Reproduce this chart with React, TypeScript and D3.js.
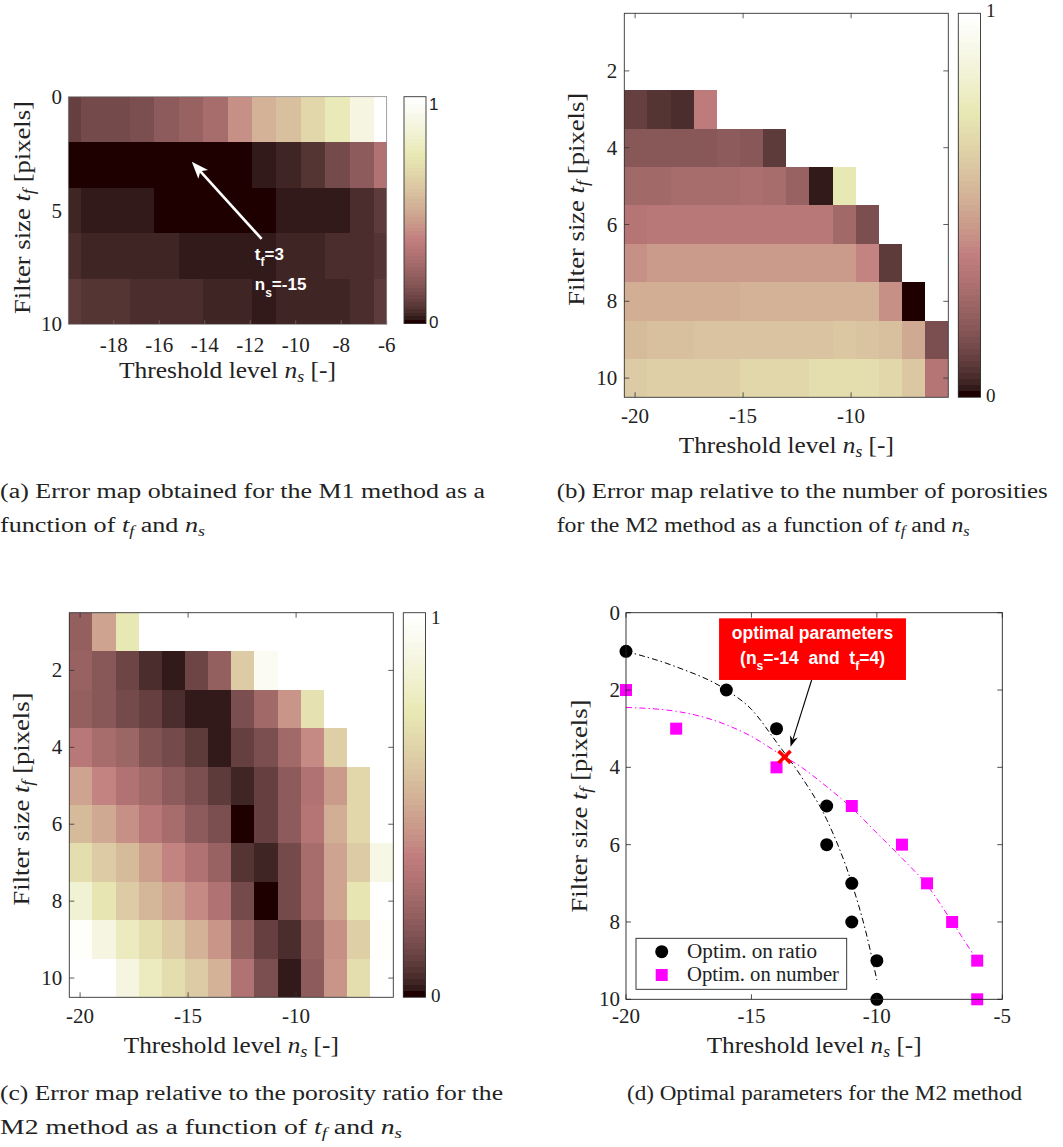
import React from "react";
import * as d3 from "d3";

const SERIF = "'Liberation Serif','Times New Roman',serif";
const SANS = "'Liberation Sans',Arial,Helvetica,sans-serif";

// ---------------- DATA ----------------
// (a) M1 method: rows = filter size t_f, 14 threshold columns
const aFilterSizes = [1, 3, 5, 7, 9];
const aError = [
  [0.1, 0.13, 0.14, 0.15, 0.2, 0.23, 0.27, 0.42, 0.52, 0.57, 0.66, 0.76, 0.88, 1.0],
  [0, 0, 0, 0, 0, 0, 0, 0, 0.02, 0.04, 0.07, 0.13, 0.2, 0.3],
  [0.04, 0.02, 0.02, 0.02, 0, 0, 0, 0, 0, 0.02, 0.02, 0.03, 0.05, 0.08],
  [0.05, 0.045, 0.045, 0.035, 0.035, 0.02, 0.02, 0.02, 0.02, 0.035, 0.045, 0.05, 0.055, 0.07],
  [0.08, 0.075, 0.075, 0.06, 0.05, 0.05, 0.04, 0.04, 0.02, 0.035, 0.035, 0.045, 0.06, 0.08],
];
const aXTicks = [-18, -16, -14, -12, -10, -8, -6];
const aYTicks = [0, 5, 10];

// (b) and (c) M2 method: rows t_f = 1..10, 14 threshold columns (null = no value)
const bcFilterSizes = [1, 2, 3, 4, 5, 6, 7, 8, 9, 10];
const N = null;
const bError = [
  [N, N, N, N, N, N, N, N, N, N, N, N, N, N],
  [N, N, N, N, N, N, N, N, N, N, N, N, N, N],
  [0.1, 0.07, 0.055, 0.35, N, N, N, N, N, N, N, N, N, N],
  [0.18, 0.18, 0.18, 0.18, 0.2, 0.18, 0.09, N, N, N, N, N, N, N],
  [0.26, 0.26, 0.27, 0.27, 0.27, 0.29, 0.28, 0.22, 0.02, 0.74, N, N, N, N],
  [0.32, 0.34, 0.34, 0.34, 0.34, 0.34, 0.34, 0.34, 0.34, 0.26, 0.15, N, N, N],
  [0.42, 0.44, 0.44, 0.44, 0.45, 0.45, 0.45, 0.45, 0.45, 0.44, 0.38, 0.09, N, N],
  [0.5, 0.5, 0.51, 0.51, 0.51, 0.52, 0.52, 0.52, 0.52, 0.52, 0.52, 0.42, 0.0, N],
  [0.56, 0.57, 0.57, 0.58, 0.58, 0.58, 0.59, 0.59, 0.59, 0.6, 0.58, 0.57, 0.49, 0.15],
  [0.61, 0.63, 0.63, 0.64, 0.64, 0.66, 0.66, 0.66, 0.69, 0.69, 0.69, 0.66, 0.6, 0.32],
];
const cError = [
  [0.21, 0.48, 0.74, N, N, N, N, N, N, N, N, N, N, N],
  [0.22, 0.18, 0.11, 0.055, 0.02, 0.12, 0.21, 0.62, 0.95, N, N, N, N, N],
  [0.21, 0.18, 0.13, 0.1, 0.055, 0.02, 0.02, 0.15, 0.25, 0.43, 0.71, N, N, N],
  [0.34, 0.28, 0.24, 0.17, 0.14, 0.09, 0.02, 0.1, 0.15, 0.25, 0.4, 0.63, N, N],
  [0.47, 0.39, 0.31, 0.25, 0.19, 0.15, 0.09, 0.04, 0.1, 0.19, 0.3, 0.44, 0.67, N],
  [0.55, 0.49, 0.42, 0.33, 0.27, 0.2, 0.15, 0.0, 0.1, 0.2, 0.32, 0.5, 0.67, N],
  [0.7, 0.62, 0.55, 0.46, 0.38, 0.3, 0.23, 0.07, 0.035, 0.14, 0.28, 0.47, 0.62, 0.9],
  [0.83, 0.72, 0.62, 0.54, 0.47, 0.4, 0.3, 0.13, 0.0, 0.14, 0.28, 0.48, 0.72, 1.0],
  [0.97, 0.88, 0.78, 0.7, 0.62, 0.52, 0.43, 0.21, 0.1, 0.05, 0.21, 0.42, 0.64, 0.97],
  [1.0, 1.0, 0.88, 0.78, 0.7, 0.62, 0.52, 0.3, 0.15, 0.02, 0.2, 0.43, 0.7, 1.0],
];
const bcXTicks = [-20, -15, -10];
const bcYTicks = [2, 4, 6, 8, 10];

// (d) optimal parameters
const dRatioNs = [-20, -16, -14, -12, -12, -11, -11, -10, -10];
const dRatioTf = [1, 2, 3, 5, 6, 7, 8, 9, 10];
const dNumberNs = [-20, -18, -14, -11, -9, -8, -7, -6, -6];
const dNumberTf = [2, 3, 4, 5, 6, 7, 8, 9, 10];
const dRatioFitNs = [-20, -18, -16, -15, -14, -13, -12, -11, -10.5, -10];
const dRatioFitTf = [1.0, 1.4, 2.0, 2.5, 3.35, 4.25, 5.35, 7.0, 8.1, 9.5];
const dNumberFitNs = [-20, -18, -16, -15, -14, -13, -12, -11, -10, -9, -8, -7, -6];
const dNumberFitTf = [2.45, 2.55, 2.9, 3.2, 3.6, 4.0, 4.5, 5.05, 5.7, 6.35, 7.05, 8.0, 9.0];
const optNs = -13.68;
const optTf = 3.73;
const dXTicks = [-20, -15, -10, -5];
const dYTicks = [0, 2, 4, 6, 8, 10];

// ---------------- COLORMAP (MATLAB "pink", 64 levels) ----------------
function matlabPink(m: number) {
  const n = Math.floor((3 / 8) * m);
  const out: string[] = [];
  for (let i = 0; i < m; i++) {
    const g = i / (m - 1);
    const hr = i < n ? (i + 1) / n : 1;
    const hg = i < n ? 0 : i < 2 * n ? (i - n + 1) / n : 1;
    const hb = i < 2 * n ? 0 : (i - 2 * n + 1) / (m - 2 * n);
    const f = (h: number) => Math.round(255 * Math.sqrt((2 * g + h) / 3));
    out.push(`rgb(${f(hr)},${f(hg)},${f(hb)})`);
  }
  return out;
}
const PINK = matlabPink(64);
const cmap = d3.scaleQuantize<string>().domain([0, 1]).range(PINK);

type Frame = { l: number; r: number; t: number; b: number };

const FA: Frame = { l: 68.3, r: 386.7, t: 96.7, b: 324.3 };
const FB: Frame = { l: 624.3, r: 948.3, t: 13.3, b: 397.3 };
const FC: Frame = { l: 69.3, r: 393.3, t: 612.7, b: 997.3 };
const FD: Frame = { l: 626, r: 1002.3, t: 612.7, b: 999.3 };

const ADJ = "spacingAndGlyphs";

function NsLabel({ x, y, size = 23, len }: { x: number; y: number; size?: number; len?: number }) {
  return (
    <text x={x} y={y} textAnchor="middle" fontFamily={SERIF} fontSize={size} fill="#222"
      style={{ whiteSpace: "pre" }} textLength={len} lengthAdjust={ADJ}>
      {"Threshold level "}
      <tspan fontStyle="italic">n</tspan>
      <tspan fontStyle="italic" fontSize={size * 0.7} dy={4}>s</tspan>
      <tspan dy={-4}>{" [-]"}</tspan>
    </text>
  );
}

function TfLabel({ x, y, size = 23, len }: { x: number; y: number; size?: number; len?: number }) {
  return (
    <text transform={`translate(${x},${y}) rotate(-90)`} textAnchor="middle" fontFamily={SERIF}
      fontSize={size} fill="#222" style={{ whiteSpace: "pre" }} textLength={len} lengthAdjust={ADJ}>
      {"Filter size "}
      <tspan fontStyle="italic">t</tspan>
      <tspan fontStyle="italic" fontSize={size * 0.7} dy={4}>f</tspan>
      <tspan dy={-4}>{" [pixels]"}</tspan>
    </text>
  );
}

function Colorbar({ x0, x1, f, labelFont, labelSize, topY, botY, lx }:
  { x0: number; x1: number; f: Frame; labelFont: string; labelSize: number; topY: number; botY: number; lx: number }) {
  const y = d3.scaleLinear().domain([0, PINK.length]).range([f.b, f.t]);
  return (
    <g>
      {PINK.map((c, i) => (
        <rect key={i} x={x0} y={y(i + 1)} width={x1 - x0} height={y(i) - y(i + 1)} fill={c}
          shapeRendering="crispEdges" />
      ))}
      <rect x={x0} y={f.t} width={x1 - x0} height={f.b - f.t} fill="none" stroke="#333" strokeWidth={0.9} />
      <text x={lx} y={topY} fontFamily={labelFont} fontSize={labelSize} fill="#222">1</text>
      <text x={lx} y={botY} fontFamily={labelFont} fontSize={labelSize} fill="#222">0</text>
    </g>
  );
}

function arrowHead(tx: number, ty: number, fx: number, fy: number, len: number, hw: number, notch: number) {
  const dx = tx - fx, dy = ty - fy;
  const d = Math.hypot(dx, dy);
  const ux = dx / d, uy = dy / d;
  const px = -uy, py = ux;
  const bx = tx - ux * len, by = ty - uy * len;
  const nx = tx - ux * len * (1 - notch), ny = ty - uy * len * (1 - notch);
  return `M${tx},${ty}L${bx + px * hw},${by + py * hw}L${nx},${ny}L${bx - px * hw},${by - py * hw}Z`;
}

function PanelA() {
  const f = FA;
  const xAxis = d3.scaleLinear().domain([-20, -6]).range([f.l, f.r]);
  const y = d3.scaleLinear().domain([0, 10]).range([f.t, f.b]);
  const xCell = d3.scaleLinear().domain([0, aError[0].length - 1]).range([f.l, f.r]);
  const tail = { ns: -11.5, tf: 6.25 };
  const head = { ns: -14.57, tf: 2.86 };
  const hx = xAxis(head.ns), hy = y(head.tf), tx = xAxis(tail.ns), ty = y(tail.tf);
  const txtX = xAxis(-11.8);
  return (
    <g>
      <clipPath id="clipA"><rect x={f.l} y={f.t} width={f.r - f.l} height={f.b - f.t} /></clipPath>
      <g clipPath="url(#clipA)">
        {aError.map((row, ri) =>
          row.map((v, ci) => (
            <rect key={`${ri}-${ci}`} x={xCell(ci - 0.5)} y={y(aFilterSizes[ri] - 1)}
              width={xCell(ci + 0.5) - xCell(ci - 0.5)} height={y(aFilterSizes[ri] + 1) - y(aFilterSizes[ri] - 1)}
              fill={cmap(v)} shapeRendering="crispEdges" />
          ))
        )}
      </g>
      <rect x={f.l} y={f.t} width={f.r - f.l} height={f.b - f.t} fill="none" stroke="#777" strokeWidth={0.7} />
      {aXTicks.map((t) => (
        <g key={t}>
          <line x1={xAxis(t)} x2={xAxis(t)} y1={f.b} y2={f.b - 4} stroke="#777" strokeWidth={0.7} />
          <text x={xAxis(t)} y={352} textAnchor="middle" fontFamily={SERIF} fontSize={21} fill="#222">{t}</text>
        </g>
      ))}
      {aYTicks.map((t) => (
        <text key={t} x={62} y={y(t) + 7} textAnchor="end" fontFamily={SERIF} fontSize={21} fill="#222">{t}</text>
      ))}
      <NsLabel x={(f.l + f.r) / 2} y={378} len={217} />
      <TfLabel x={30} y={(f.t + f.b) / 2 - 3} len={213} />
      <line x1={tx} y1={ty} x2={hx + (tx - hx) * 0.12} y2={hy + (ty - hy) * 0.12} stroke="#fff" strokeWidth={2.6} />
      <path d={arrowHead(hx, hy, tx, ty, 17, 6.5, 0.25)} fill="#fff" />
      <text x={txtX} y={260} fontFamily={SANS} fontWeight="bold" fontSize={17} fill="#fff">
        t<tspan fontSize={12} dy={6}>f</tspan><tspan dy={-6}>=3</tspan>
      </text>
      <text x={txtX} y={290} fontFamily={SANS} fontWeight="bold" fontSize={17} fill="#fff">
        n<tspan fontSize={12} dy={7}>s</tspan><tspan dy={-7}>=-15</tspan>
      </text>
      <Colorbar x0={404} x1={426} f={{ l: 404, r: 426, t: 96.7, b: 323.5 }} labelFont={SANS} labelSize={17}
        topY={110} botY={328} lx={429} />
    </g>
  );
}

function HeatBC({ f, data, id }: { f: Frame; data: (number | null)[][]; id: string }) {
  const xAxis = d3.scaleLinear().domain([-20.5, -5.5]).range([f.l, f.r]);
  const y = d3.scaleLinear().domain([0.5, 10.5]).range([f.t, f.b]);
  const xCell = d3.scaleBand<number>().domain(d3.range(data[0].length)).range([f.l, f.r]);
  return (
    <g>
      {data.map((row, ri) =>
        row.map((v, ci) =>
          v === null ? null : (
            <rect key={`${id}-${ri}-${ci}`} x={xCell(ci)} y={y(bcFilterSizes[ri] - 0.5)} width={xCell.bandwidth()}
              height={y(bcFilterSizes[ri] + 0.5) - y(bcFilterSizes[ri] - 0.5)} fill={cmap(v)}
              shapeRendering="crispEdges" />
          )
        )
      )}
      <rect x={f.l} y={f.t} width={f.r - f.l} height={f.b - f.t} fill="none" stroke="#333" strokeWidth={0.9} />
      {bcXTicks.map((t) => (
        <g key={t}>
          <line x1={xAxis(t)} x2={xAxis(t)} y1={f.b} y2={f.b - 5} stroke="#333" strokeWidth={0.8} />
          <line x1={xAxis(t)} x2={xAxis(t)} y1={f.t} y2={f.t + 5} stroke="#333" strokeWidth={0.8} />
          <text x={xAxis(t)} y={f.b + 26} textAnchor="middle" fontFamily={SERIF} fontSize={21} fill="#222">{t}</text>
        </g>
      ))}
      {bcYTicks.map((t) => (
        <g key={t}>
          <line x1={f.l} x2={f.l + 5} y1={y(t)} y2={y(t)} stroke="#333" strokeWidth={0.8} />
          <line x1={f.r} x2={f.r - 5} y1={y(t)} y2={y(t)} stroke="#333" strokeWidth={0.8} />
          <text x={f.l - 7} y={y(t) + 7} textAnchor="end" fontFamily={SERIF} fontSize={21} fill="#222">{t}</text>
        </g>
      ))}
      <NsLabel x={(f.l + f.r) / 2} y={f.b + 56} len={215} />
      <TfLabel x={f.l - 40} y={(f.t + f.b) / 2 - 6} len={213} />
    </g>
  );
}

function PanelD() {
  const f = FD;
  const x = d3.scaleLinear().domain([-20, -5]).range([f.l, f.r]);
  const y = d3.scaleLinear().domain([0, 10]).range([f.t, f.b]);
  const line = d3.line<[number, number]>().x((d) => x(d[0])).y((d) => y(d[1])).curve(d3.curveMonotoneX);
  const ratioFit = line(dRatioFitNs.map((n, i) => [n, dRatioFitTf[i]]));
  const numberFit = line(dNumberFitNs.map((n, i) => [n, dNumberFitTf[i]]));
  const ox = x(optNs), oy = y(optTf);
  const box = { l: x(-16.29), r: x(-8.84), t: y(0.145), b: y(1.74) };
  const aTail = { x: x(-12.6), y: y(1.74) };
  const aHead = { x: x(-13.44), y: y(3.47) };
  const cx = (box.l + box.r) / 2;
  return (
    <g>
      <clipPath id="clipD"><rect x={f.l} y={f.t} width={f.r - f.l} height={f.b - f.t} /></clipPath>
      <rect x={f.l} y={f.t} width={f.r - f.l} height={f.b - f.t} fill="#fff" />
      <g clipPath="url(#clipD)">
        <path d={ratioFit || ""} fill="none" stroke="#000" strokeWidth={1} strokeDasharray="6,3,1.5,3" />
        <path d={numberFit || ""} fill="none" stroke="#ff00ff" strokeWidth={1} strokeDasharray="6,3,1.5,3" />
      </g>
      {dRatioNs.map((n, i) => (
        <circle key={`r${i}`} cx={x(n)} cy={y(dRatioTf[i])} r={6.5} fill="#000" />
      ))}
      {dNumberNs.map((n, i) => (
        <rect key={`n${i}`} x={x(n) - 6} y={y(dNumberTf[i]) - 6} width={12} height={12} fill="#ff00ff" />
      ))}
      <g stroke="#ff0000" strokeWidth={3.6} strokeLinecap="butt">
        <line x1={ox - 6} y1={oy - 6} x2={ox + 6} y2={oy + 6} />
        <line x1={ox - 6} y1={oy + 6} x2={ox + 6} y2={oy - 6} />
      </g>
      <rect x={f.l} y={f.t} width={f.r - f.l} height={f.b - f.t} fill="none" stroke="#222" strokeWidth={0.9} />
      {dXTicks.map((t) => (
        <g key={t}>
          <line x1={x(t)} x2={x(t)} y1={f.b} y2={f.b - 5} stroke="#222" strokeWidth={0.8} />
          <line x1={x(t)} x2={x(t)} y1={f.t} y2={f.t + 5} stroke="#222" strokeWidth={0.8} />
          <text x={x(t)} y={f.b + 24} textAnchor="middle" fontFamily={SERIF} fontSize={21} fill="#222">{t}</text>
        </g>
      ))}
      {dYTicks.map((t) => (
        <g key={t}>
          <line x1={f.l} x2={f.l + 5} y1={y(t)} y2={y(t)} stroke="#222" strokeWidth={0.8} />
          <line x1={f.r} x2={f.r - 5} y1={y(t)} y2={y(t)} stroke="#222" strokeWidth={0.8} />
          <text x={f.l - 6} y={y(t) + 7} textAnchor="end" fontFamily={SERIF} fontSize={21} fill="#222">{t}</text>
        </g>
      ))}
      <rect x={box.l} y={box.t} width={box.r - box.l} height={box.b - box.t} fill="#ff0000" />
      <text x={cx} y={y(0.69)} textAnchor="middle" fontFamily={SANS} fontWeight="bold" fontSize={17.5} fill="#fff">
        optimal parameters
      </text>
      <text x={cx} y={y(1.33)} textAnchor="middle" fontFamily={SANS} fontWeight="bold" fontSize={17.5} fill="#fff"
        style={{ whiteSpace: "pre" }}>
        {"(n"}<tspan fontSize={12} dy={6}>s</tspan><tspan dy={-6}>{"=-14  and  t"}</tspan>
        <tspan fontSize={12} dy={6}>f</tspan><tspan dy={-6}>{"=4)"}</tspan>
      </text>
      <line x1={aTail.x} y1={aTail.y} x2={aHead.x + (aTail.x - aHead.x) * 0.12} y2={aHead.y + (aTail.y - aHead.y) * 0.12}
        stroke="#000" strokeWidth={1.1} />
      <path d={arrowHead(aHead.x, aHead.y, aTail.x, aTail.y, 11, 4, 0.3)} fill="#000" />
      <rect x={636} y={938.3} width={210.7} height={51} fill="#fff" stroke="#222" strokeWidth={0.9} />
      <circle cx={661.7} cy={951.7} r={6.5} fill="#000" />
      <text x={687} y={958} fontFamily={SERIF} fontSize={20} fill="#222" textLength={130} lengthAdjust={ADJ}>Optim. on ratio</text>
      <rect x={655.7} y={969} width={12} height={12} fill="#ff00ff" />
      <text x={687} y={981} fontFamily={SERIF} fontSize={20} fill="#222" textLength={152} lengthAdjust={ADJ}>Optim. on number</text>
      <NsLabel x={(f.l + f.r) / 2} y={f.b + 54} len={215} />
      <TfLabel x={f.l - 39} y={(f.t + f.b) / 2} len={213} />
    </g>
  );
}

function Caption({ x, y, len, children }: { x: number; y: number; len?: number; children: React.ReactNode }) {
  return (
    <text x={x} y={y} fontFamily={SERIF} fontSize={20.5} fill="#222" style={{ whiteSpace: "pre" }}
      textLength={len} lengthAdjust={ADJ}>
      {children}
    </text>
  );
}

function TfNs() {
  return (
    <>
      <tspan fontStyle="italic">t</tspan>
      <tspan fontStyle="italic" fontSize={14} dy={4}>f</tspan>
      <tspan dy={-4}>{" and "}</tspan>
      <tspan fontStyle="italic">n</tspan>
      <tspan fontStyle="italic" fontSize={14} dy={4}>s</tspan>
    </>
  );
}

export default function App() {
  return (
    <svg width={1063} height={1147} viewBox="0 0 1063 1147"
      style={{ position: "absolute", left: 0, top: 0, background: "#fff" }}>
      <rect x={0} y={0} width={1063} height={1147} fill="#fff" />
      <PanelA />
      <HeatBC f={FB} data={bError} id="b" />
      <Colorbar x0={958.3} x1={980.5} f={{ l: 958.3, r: 980.5, t: FB.t, b: FB.b }} labelFont={SERIF} labelSize={19}
        topY={17} botY={402} lx={986} />
      <HeatBC f={FC} data={cError} id="c" />
      <Colorbar x0={403.3} x1={425.5} f={{ l: 403.3, r: 425.5, t: FC.t, b: FC.b }} labelFont={SERIF} labelSize={19}
        topY={624} botY={1002} lx={431} />
      <PanelD />

      <Caption x={0} y={498} len={485}>{"(a) Error map obtained for the M1 method as a"}</Caption>
      <Caption x={0} y={532} len={205}>{"function of "}<TfNs /></Caption>
      <Caption x={556.7} y={498} len={491}>{"(b) Error map relative to the number of porosities"}</Caption>
      <Caption x={556.7} y={532} len={413}>{"for the M2 method as a function of "}<TfNs /></Caption>
      <Caption x={0} y={1100} len={503}>{"(c) Error map relative to the porosity ratio for the"}</Caption>
      <Caption x={0} y={1134} len={402}>{"M2 method as a function of "}<TfNs /></Caption>
      <Caption x={627} y={1100} len={395}>{"(d) Optimal parameters for the M2 method"}</Caption>
    </svg>
  );
}
